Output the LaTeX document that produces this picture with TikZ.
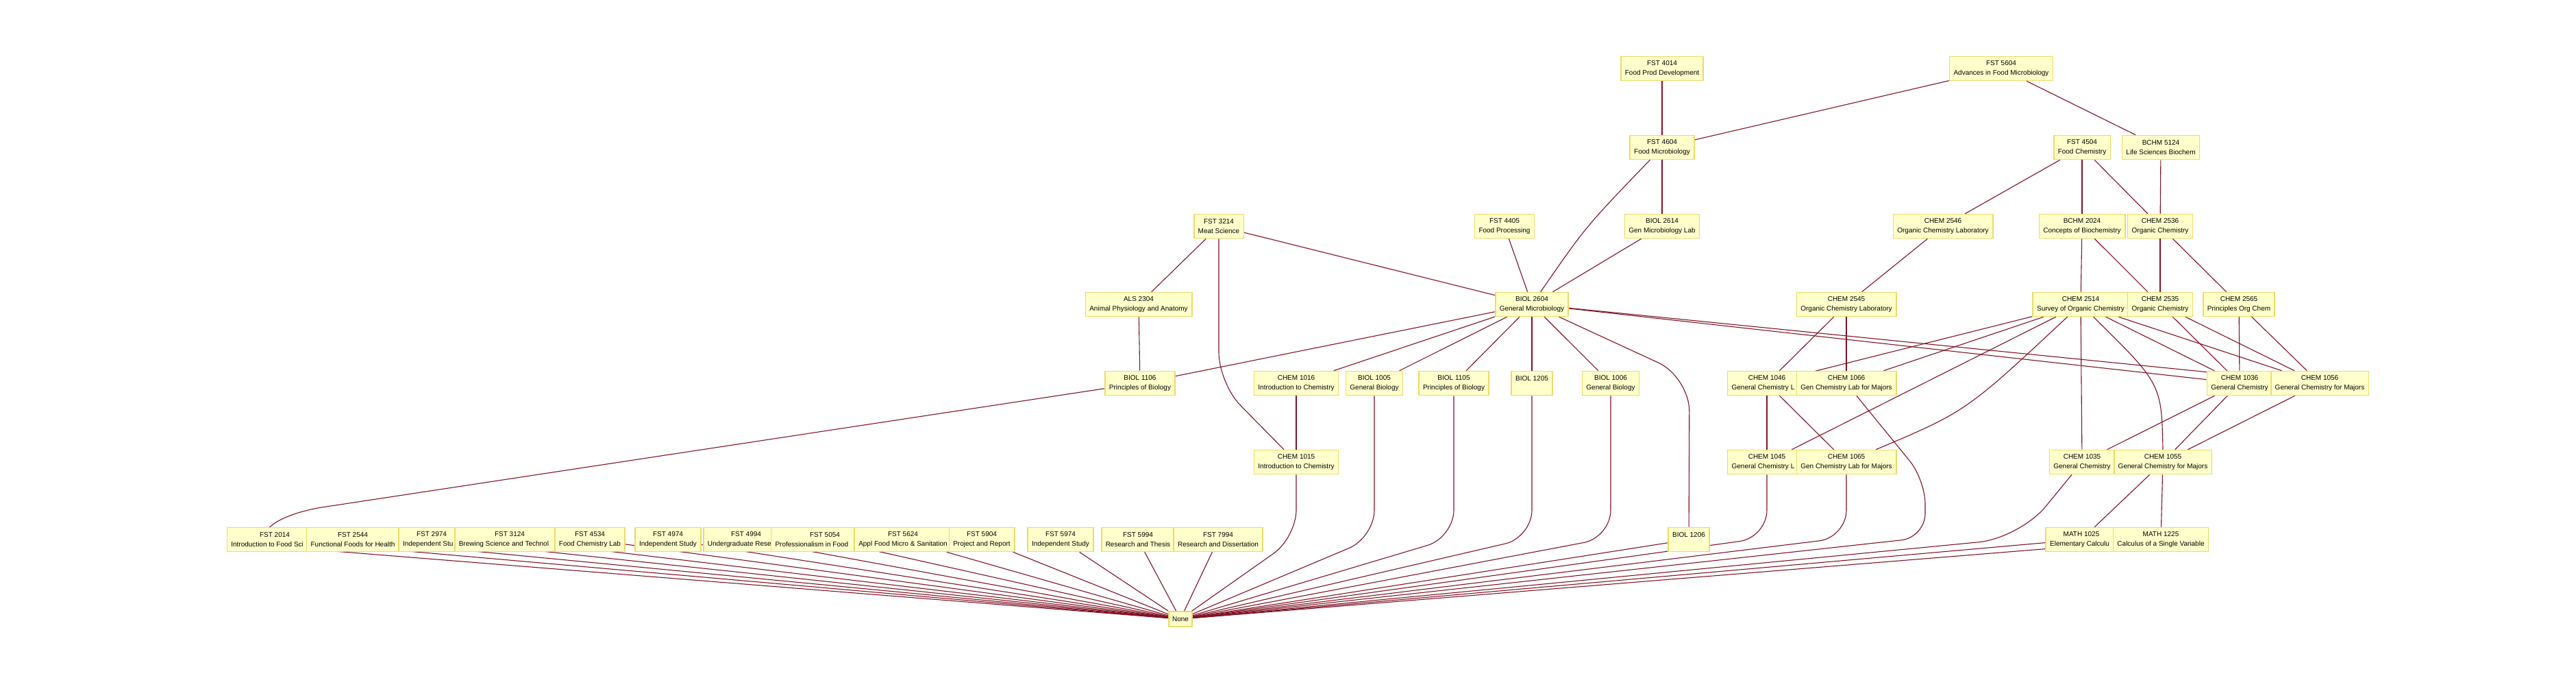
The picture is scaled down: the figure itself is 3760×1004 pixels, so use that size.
\documentclass[tikz,border=0pt]{standalone}
\usepackage{fontspec}
\setmainfont{Liberation Sans}
\usepackage{xcolor}
\definecolor{coursefill}{RGB}{255,255,204}
\definecolor{courseline}{RGB}{236,218,104}
\definecolor{prereqline}{RGB}{128,18,36}
\pgfdeclarelayer{edges}
\pgfsetlayers{edges,main}
% a title cut off by the box drawn over it
\newcommand\cuttitle[2]{\makebox[#1][l]{#2}}

\begin{document}
\begin{tikzpicture}[x=1pt,y=-1pt,
    course/.style={draw=courseline,fill=coursefill,line width=1.6pt,align=center,
      font=\fontsize{10}{14}\selectfont,inner xsep=6pt,inner ysep=0pt,minimum height=35pt},
    nonebox/.style={course,minimum height=22pt,inner xsep=5pt},
    prereq/.style={draw=prereqline,line width=1.1pt}]
    \useasboundingbox (0,0) rectangle (3760,1004);

    % top rows
    \node[course] (fst4014) at (2426,100) {FST 4014\\Food Prod Development};
    \node[course] (fst5604) at (2921,100) {FST 5604\\Advances in Food Microbiology};
    \node[course] (fst4604) at (2426,215) {FST 4604\\Food Microbiology};
    \node[course] (fst4504) at (3039,215) {FST 4504\\Food Chemistry};
    \node[course] (bchm5124) at (3154,215) {BCHM 5124\\Life Sciences Biochem};
    \node[course] (fst3214) at (1779,330) {FST 3214\\Meat Science};
    \node[course] (fst4405) at (2196,330) {FST 4405\\Food Processing};
    \node[course] (biol2614) at (2426,330) {BIOL 2614\\Gen Microbiology Lab};
    \node[course] (chem2546) at (2836,330) {CHEM 2546\\Organic Chemistry Laboratory};
    \node[course] (bchm2024) at (3039,330) {BCHM 2024\\Concepts of Biochemistry};
    \node[course] (chem2536) at (3153,330) {CHEM 2536\\Organic Chemistry};
    \node[course] (als2304) at (1662,444) {ALS 2304\\Animal Physiology and Anatomy};
    \node[course] (biol2604) at (2236,444) {BIOL 2604\\General Microbiology};
    \node[course] (chem2545) at (2695,444) {CHEM 2545\\Organic Chemistry Laboratory};
    \node[course] (chem2514) at (3037,444) {CHEM 2514\\Survey of Organic Chemistry};
    \node[course] (chem2535) at (3153,444) {CHEM 2535\\Organic Chemistry};
    \node[course] (chem2565) at (3268,444) {CHEM 2565\\Principles Org Chem};

    % middle rows
    \node[course] (biol1106) at (1664,559) {BIOL 1106\\Principles of Biology};
    \node[course] (chem1016) at (1892,559) {CHEM 1016\\Introduction to Chemistry};
    \node[course] (biol1005) at (2006,559) {BIOL 1005\\General Biology};
    \node[course] (biol1105) at (2122,559) {BIOL 1105\\Principles of Biology};
    \node[course] (biol1205) at (2236,559) {BIOL 1205\\\mbox{}};
    \node[course] (biol1006) at (2351,559) {BIOL 1006\\General Biology};
    \node[course] (chem1046) at (2579,559) {CHEM 1046\\\cuttitle{102.8pt}{General Chemistry L}};
    \node[course] (chem1066) at (2695,559) {CHEM 1066\\Gen Chemistry Lab for Majors};
    \node[course] (chem1036) at (3269,559) {CHEM 1036\\General Chemistry};
    \node[course] (chem1056) at (3386,559) {CHEM 1056\\General Chemistry for Majors};
    \node[course] (chem1015) at (1892,674) {CHEM 1015\\Introduction to Chemistry};
    \node[course] (chem1045) at (2579,674) {CHEM 1045\\\cuttitle{102.8pt}{General Chemistry L}};
    \node[course] (chem1065) at (2695,674) {CHEM 1065\\Gen Chemistry Lab for Majors};
    \node[course] (chem1035) at (3039,674) {CHEM 1035\\General Chemistry};
    \node[course] (chem1055) at (3157,674) {CHEM 1055\\General Chemistry for Majors};

    % bottom row
    \node[course] (fst2014) at (401,787) {FST 2014\\\cuttitle{127.3pt}{Introduction to Food Sci}};
    \node[course] (fst2544) at (515,787) {FST 2544\\Functional Foods for Health};
    \node[course] (fst2974) at (630,787) {FST 2974\\\cuttitle{84pt}{Independent Stu}};
    \node[course] (fst3124) at (744,787) {FST 3124\\\cuttitle{148.4pt}{Brewing Science and Technol}};
    \node[course] (fst4534) at (861,787) {FST 4534\\Food Chemistry Lab};
    \node[course] (fst4974) at (975,787) {FST 4974\\Independent Study};
    \node[course] (fst4994) at (1089,787) {FST 4994\\\cuttitle{112.3pt}{Undergraduate Rese}};
    \node[course] (fst5054) at (1204,787) {FST 5054\\\cuttitle{145pt}{Professionalism in Food}};
    \node[course] (fst5624) at (1318,787) {FST 5624\\Appl Food Micro \& Sanitation};
    \node[course] (fst5904) at (1433,787) {FST 5904\\Project and Report};
    \node[course] (fst5974) at (1548,787) {FST 5974\\Independent Study};
    \node[course] (fst5994) at (1661,787) {FST 5994\\Research and Thesis};
    \node[course] (fst7994) at (1778,787) {FST 7994\\Research and Dissertation};
    \node[course] (biol1206) at (2465,787) {BIOL 1206\\\mbox{}};
    \node[course] (math1025) at (3038,787) {MATH 1025\\\cuttitle{91.7pt}{Elementary Calculu}};
    \node[course] (math1225) at (3154,787) {MATH 1225\\Calculus of a Single Variable};
    \node[nonebox] (none) at (1723,903) {None};
    \coordinate (knee) at (0,784);

    \begin{pgfonlayer}{edges}
    \fill[white] (0,0) rectangle (3760,1004);
    \draw[prereq] (fst4014) -- (fst4604);
    \draw[prereq] (fst5604) -- (fst4604);
    \draw[prereq] (fst5604) -- (bchm5124);
    \draw[prereq] (fst4604) -- (biol2614);
    \draw[prereq] (fst4604) .. controls (2315,330) .. (biol2604);
    \draw[prereq] (fst4504) -- (chem2546);
    \draw[prereq] (fst4504) -- (bchm2024);
    \draw[prereq] (fst4504) -- (chem2536);
    \draw[prereq] (bchm5124) -- (chem2536);
    \draw[prereq] (fst3214) -- (als2304);
    \draw[prereq] (fst3214) -- (biol2604);
    \draw[prereq,rounded corners=45pt] (fst3214.south) -- ++(0,211) -- (chem1015);
    \draw[prereq] (fst4405) -- (biol2604);
    \draw[prereq] (biol2614) -- (biol2604);
    \draw[prereq] (chem2546) -- (chem2545);
    \draw[prereq] (bchm2024) -- (chem2514);
    \draw[prereq] (bchm2024) -- (chem2535);
    \draw[prereq] (chem2536) -- (chem2535);
    \draw[prereq] (chem2536) -- (chem2565);
    \draw[prereq] (als2304) -- (biol1106);

    % general microbiology
    \draw[prereq] (biol2604) -- (biol1106);
    \draw[prereq] (biol2604) -- (chem1016);
    \draw[prereq] (biol2604) -- (biol1005);
    \draw[prereq] (biol2604) -- (biol1105);
    \draw[prereq] (biol2604) -- (biol1205);
    \draw[prereq] (biol2604) -- (biol1006);
    \draw[prereq] (biol2604) -- (chem1036);
    \draw[prereq] (biol2604) -- (chem1056);
    \draw[prereq,rounded corners=50pt] (biol2604) -- (2466,550) -- (biol1206);

    % organic chemistry
    \draw[prereq] (chem2545) -- (chem1046);
    \draw[prereq] (chem2545) -- (chem1066);
    \draw[prereq] (chem2514) -- (chem1046);
    \draw[prereq] (chem2514) -- (chem1066);
    \draw[prereq] (chem2514) -- (chem1045);
    \draw[prereq] (chem2514) .. controls (2870,600) .. (chem1065);
    \draw[prereq] (chem2514) -- (chem1035);
    \draw[prereq] (chem2514) .. controls (3155,560) .. (chem1055.north);
    \draw[prereq] (chem2514) -- (chem1036);
    \draw[prereq] (chem2514) -- (chem1056);
    \draw[prereq] (chem2535) -- (chem1036);
    \draw[prereq] (chem2535) -- (chem1056);
    \draw[prereq] (chem2565) -- (chem1036);
    \draw[prereq] (chem2565) -- (chem1056);

    % general chemistry
    \draw[prereq] (chem1016) -- (chem1015);
    \draw[prereq] (chem1046) -- (chem1045);
    \draw[prereq] (chem1046) -- (chem1065);
    \draw[prereq] (chem1036) -- (chem1035);
    \draw[prereq] (chem1036) -- (chem1055);
    \draw[prereq] (chem1056) -- (chem1055);
    \draw[prereq] (chem1055) -- (math1025);
    \draw[prereq] (chem1055) -- (math1225);

    % no prerequisite
    \draw[prereq] (biol1106) -- (470,740) .. controls (400,751) and (340,790) .. (450,801) -- (none);
    \draw[prereq,rounded corners=40pt] (biol1005.south) -- (biol1005 |- knee) -- (none);
    \draw[prereq,rounded corners=40pt] (biol1105.south) -- (biol1105 |- knee) -- (none);
    \draw[prereq,rounded corners=40pt] (biol1205.south) -- (biol1205 |- knee) -- (none);
    \draw[prereq,rounded corners=40pt] (biol1006.south) -- (biol1006 |- knee) -- (none);
    \draw[prereq,rounded corners=40pt] (chem1015.south) -- (chem1015 |- knee) -- (none);
    \draw[prereq,rounded corners=40pt] (chem1045.south) -- (chem1045 |- knee) -- (none);
    \draw[prereq,rounded corners=40pt] (chem1065.south) -- (chem1065 |- knee) -- (none);
    \draw[prereq,rounded corners=35pt] (chem1066) -- (2810,700) -- (2810,784) -- (none);
    \draw[prereq,rounded corners=60pt] (chem1035) -- (2948,785) -- (none);
    \draw[prereq] (biol1206) -- (none);
    \draw[prereq] (math1025) -- (none);
    \draw[prereq] (math1225) -- (none);
    \draw[prereq] (fst2014) -- (none);
    \draw[prereq] (fst2544) -- (none);
    \draw[prereq] (fst2974) -- (none);
    \draw[prereq] (fst3124) -- (none);
    \draw[prereq] (fst4534) -- (none);
    \draw[prereq] (fst4974) -- (none);
    \draw[prereq] (fst4994) -- (none);
    \draw[prereq] (fst5054) -- (none);
    \draw[prereq] (fst5624) -- (none);
    \draw[prereq] (fst5904) -- (none);
    \draw[prereq] (fst5974) -- (none);
    \draw[prereq] (fst5994) -- (none);
    \draw[prereq] (fst7994) -- (none);
    \end{pgfonlayer}
\end{tikzpicture}
\end{document}
